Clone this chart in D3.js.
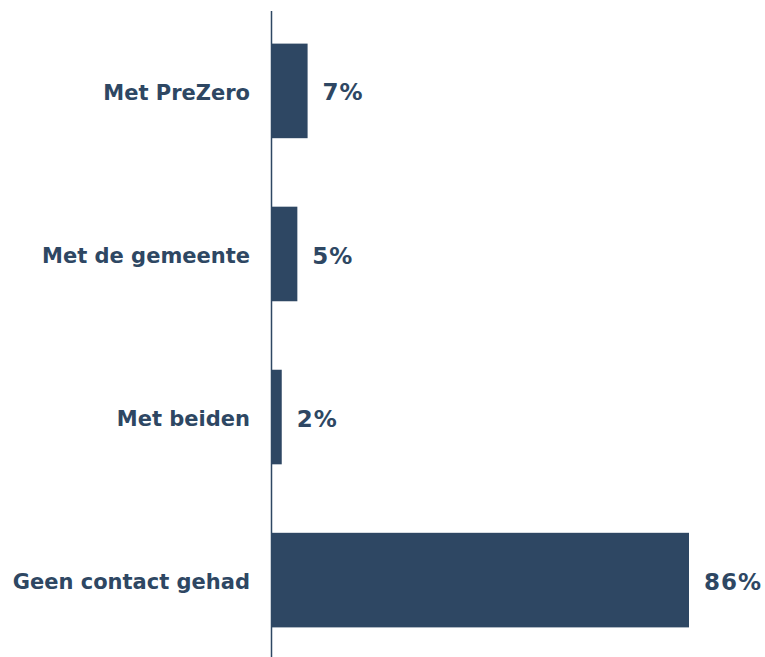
<!DOCTYPE html>
<html>
<head>
<meta charset="utf-8">
<script src="https://cdn.jsdelivr.net/npm/d3@7"></script>
<style>
  body { margin: 0; background: #fff; }
  text { font-family: "DejaVu Sans", Verdana, sans-serif; font-weight: bold; }
</style>
</head>
<body>
<script>
const categories = ["Met PreZero", "Met de gemeente", "Met beiden", "Geen contact gehad"]
const values = [7.4, 5.3, 2.1, 85.6]

const width = 765
const height = 657
const color = "#2e4763"
const axisX = 271.5

const svg = d3.select("body").append("svg")
  .attr("width", width)
  .attr("height", height)

const x = d3.scaleLinear()
  .domain([0, 85.6])
  .range([axisX, 689])

const y = d3.scaleBand()
  .domain(categories)
  .range([11, 660])
  .paddingInner(0.42)
  .paddingOuter(0.2)

const rows = categories.map((c, i) => ({ name: c, value: values[i] }))

svg.selectAll("rect")
  .data(rows)
  .enter()
  .append("rect")
  .attr("x", x(0))
  .attr("y", d => y(d.name))
  .attr("width", d => x(d.value) - x(0))
  .attr("height", y.bandwidth())
  .attr("fill", color)

svg.append("line")
  .attr("x1", axisX).attr("x2", axisX)
  .attr("y1", 11).attr("y2", height)
  .attr("stroke", color)
  .attr("stroke-width", 1.5)

svg.selectAll(".cat")
  .data(rows)
  .enter()
  .append("text")
  .attr("class", "cat")
  .attr("x", 250)
  .attr("y", d => y(d.name) + y.bandwidth() / 2 + 1.5)
  .attr("dy", "0.35em")
  .attr("text-anchor", "end")
  .attr("font-size", "21px")
  .attr("fill", color)
  .text(d => d.name)

svg.selectAll(".val")
  .data(rows)
  .enter()
  .append("text")
  .attr("class", "val")
  .attr("x", d => x(d.value) + 15)
  .attr("y", d => y(d.name) + y.bandwidth() / 2 + 1.5)
  .attr("dy", "0.35em")
  .attr("font-size", "23px")
  .attr("letter-spacing", "1px")
  .attr("fill", color)
  .text(d => Math.round(d.value) + "%")
</script>
</body>
</html>
